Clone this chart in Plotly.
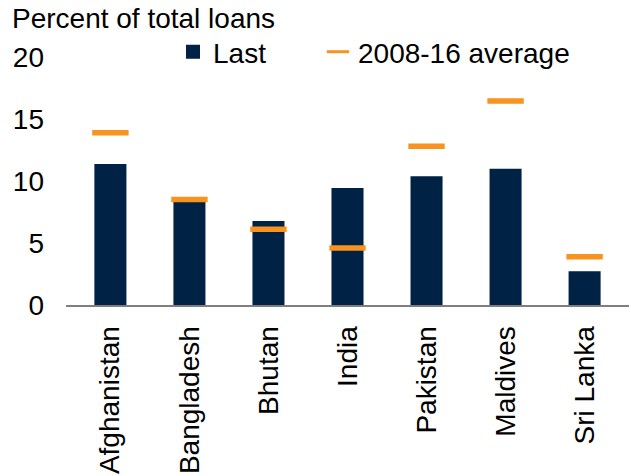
import plotly.graph_objects as go

countries = ["Afghanistan", "Bangladesh", "Bhutan", "India", "Pakistan", "Maldives", "Sri Lanka"]
last_vals = [11.3, 8.6, 6.7, 9.35, 10.3, 10.9, 2.65]
avg_vals = [13.9, 8.5, 6.1, 4.6, 12.8, 16.45, 3.9]
y_ticks = [0, 5, 10, 15, 20]

NAVY = "#002244"
ORANGE = "#F7931E"
FONT = "Liberation Sans, Arial, sans-serif"

W, H = 631, 476

fig = go.Figure()
fig.add_trace(go.Bar(
    x=countries, y=last_vals, name="Last", legend="legend",
    marker=dict(color=NAVY, line=dict(width=2, color=NAVY)),
    width=0.38,
))
fig.add_trace(go.Scatter(
    x=countries, y=avg_vals, mode="markers", showlegend=False,
    name="2008-16 average",
    marker=dict(symbol="line-ew", size=26, line=dict(color=ORANGE, width=5.5)),
))
# legend-only entry for the dash symbol
fig.add_trace(go.Scatter(
    x=[None], y=[None], mode="markers", name="2008-16 average", legend="legend2",
    marker=dict(symbol="line-ew", size=17, line=dict(color=ORANGE, width=3)),
))

leg_common = dict(
    orientation="h", xref="container", yref="container",
    y=1 - 52 / H, xanchor="left", yanchor="middle",
    font=dict(size=28, family=FONT, color="#000000"),
    bgcolor="rgba(0,0,0,0)", itemwidth=30,
)

fig.update_layout(
    width=W, height=H,
    margin=dict(l=66, r=2, t=56.5, b=171, autoexpand=False),
    paper_bgcolor="white", plot_bgcolor="white",
    font=dict(family=FONT, size=28, color="#000000"),
    showlegend=True,
    legend=dict(x=173 / W, **leg_common),
    legend2=dict(x=318 / W, **leg_common),
    title=dict(
        text="Percent of total loans", xref="container", yref="container",
        x=12 / W, y=1 - 18 / H, xanchor="left", yanchor="middle",
        font=dict(size=28, family=FONT, color="#000000"),
        pad=dict(l=0, r=0, t=0, b=0),
    ),
)

fig.update_xaxes(
    showline=True, linecolor="#7f7f7f", linewidth=2,
    showgrid=False, zeroline=False, ticks="", automargin=False,
    tickangle=-90, ticklabelstandoff=8,
)
fig.update_yaxes(
    range=[0, 20], tickvals=y_ticks, showgrid=False, zeroline=False,
    showline=False, ticks="", ticklabelstandoff=21, automargin=False,
)

fig.write_html(
    "out.html",
    config={"displayModeBar": False},
    post_script="document.body.style.margin='0';document.body.style.padding='0';",
)
